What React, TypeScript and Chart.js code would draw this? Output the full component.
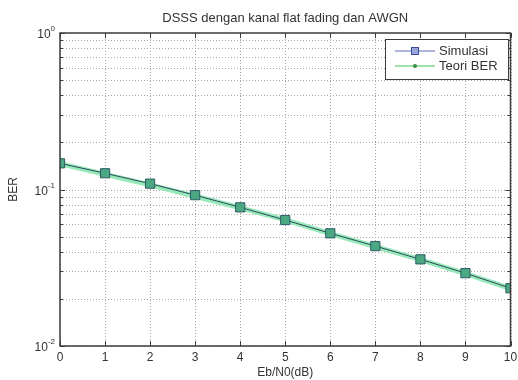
import React, { useEffect, useRef } from "react";
import { Chart, registerables } from "chart.js";

Chart.register(...registerables);

const ebN0 = [0, 1, 2, 3, 4, 5, 6, 7, 8, 9, 10];
const simBER = [0.147, 0.127, 0.109, 0.092, 0.0769, 0.0638, 0.0525, 0.0435, 0.0358, 0.0292, 0.0234];
const theoryBER = [0.146, 0.125, 0.107, 0.0905, 0.0765, 0.0640, 0.0522, 0.0432, 0.0356, 0.0290, 0.0233];
const xTickLabels = ["0", "1", "2", "3", "4", "5", "6", "7", "8", "9", "10"];
const yDecadeExponents = [0, -1, -2];
const titleText = "DSSS dengan kanal flat fading dan AWGN";
const xLabel = "Eb/N0(dB)";
const yLabel = "BER";
const legendLabels = ["Simulasi", "Teori BER"];

const FONT = '"Liberation Sans", Arial, sans-serif';
const TXT = "#333333";
const FRAME = "#3c3c3c";
const GRID = "#a8a8a8";

const matlabPlugin = {
  id: "matlabLook",
  beforeDraw(chart: any) {
    const { ctx, width, height } = chart;
    ctx.save();
    ctx.fillStyle = "#ffffff";
    ctx.fillRect(0, 0, width, height);
    ctx.restore();
  },
  beforeDatasetsDraw(chart: any) {
    const { ctx, chartArea: a, scales } = chart;
    const xs = scales.x, ys = scales.y;
    ctx.save();
    ctx.strokeStyle = GRID;
    ctx.lineWidth = 1;
    ctx.setLineDash([1, 2]);
    ebN0.forEach((v) => {
      const px = Math.round(xs.getPixelForValue(v)) + 0.5;
      ctx.beginPath();
      ctx.moveTo(px, a.top);
      ctx.lineTo(px, a.bottom);
      ctx.stroke();
    });
    for (let e = -2; e < 0; e++) {
      for (let m = 1; m <= 9; m++) {
        const py = Math.round(ys.getPixelForValue(m * Math.pow(10, e))) + 0.5;
        ctx.beginPath();
        ctx.moveTo(a.left, py);
        ctx.lineTo(a.right, py);
        ctx.stroke();
      }
    }
    ctx.restore();
  },
  afterDatasetsDraw(chart: any) {
    const { ctx, chartArea: a, scales } = chart;
    const xs = scales.x, ys = scales.y;
    ctx.save();
    // frame
    ctx.setLineDash([]);
    ctx.strokeStyle = FRAME;
    ctx.lineWidth = 1.5;
    ctx.strokeRect(a.left, a.top, a.right - a.left, a.bottom - a.top);
    // ticks
    ctx.lineWidth = 1;
    ebN0.forEach((v) => {
      const px = Math.round(xs.getPixelForValue(v)) + 0.5;
      ctx.beginPath();
      ctx.moveTo(px, a.bottom);
      ctx.lineTo(px, a.bottom - 5);
      ctx.moveTo(px, a.top);
      ctx.lineTo(px, a.top + 5);
      ctx.stroke();
    });
    for (let e = -2; e <= 0; e++) {
      for (let m = 1; m <= 9; m++) {
        if (e === 0 && m > 1) break;
        const py = Math.round(ys.getPixelForValue(m * Math.pow(10, e))) + 0.5;
        const len = m === 1 ? 5 : 3;
        ctx.beginPath();
        ctx.moveTo(a.left, py);
        ctx.lineTo(a.left + len, py);
        ctx.moveTo(a.right, py);
        ctx.lineTo(a.right - len, py);
        ctx.stroke();
      }
    }
    // x tick labels
    ctx.fillStyle = TXT;
    ctx.font = `12px ${FONT}`;
    ctx.textAlign = "center";
    ctx.textBaseline = "top";
    ebN0.forEach((v, i) => {
      ctx.fillText(xTickLabels[i], xs.getPixelForValue(v), a.bottom + 6);
    });
    // y tick labels
    yDecadeExponents.forEach((e) => {
      const py = ys.getPixelForValue(Math.pow(10, e));
      const sup = String(e);
      ctx.font = `8px ${FONT}`;
      const supW = ctx.measureText(sup).width;
      ctx.textAlign = "left";
      ctx.textBaseline = "alphabetic";
      const supX = a.left - 5 - supW;
      ctx.fillText(sup, supX, py - 2);
      ctx.font = `12px ${FONT}`;
      ctx.textAlign = "right";
      ctx.textBaseline = "middle";
      ctx.fillText("10", supX, py + 2);
    });
    // axis labels
    ctx.font = `12px ${FONT}`;
    ctx.textAlign = "center";
    ctx.textBaseline = "middle";
    ctx.fillText(xLabel, (a.left + a.right) / 2, a.bottom + 27);
    ctx.save();
    ctx.translate(14, (a.top + a.bottom) / 2);
    ctx.rotate(-Math.PI / 2);
    ctx.fillText(yLabel, 0, 0);
    ctx.restore();
    // title
    ctx.font = `13px ${FONT}`;
    ctx.fillText(titleText, (a.left + a.right) / 2, 18);
    // legend
    const lx = 385, ly = 39, lw = 123, lh = 40;
    ctx.fillStyle = "#ffffff";
    ctx.fillRect(lx, ly, lw, lh);
    ctx.strokeStyle = FRAME;
    ctx.lineWidth = 1;
    ctx.strokeRect(lx + 0.5, ly + 0.5, lw, lh);
    const rows = [ly + 12, ly + 27];
    // Simulasi sample
    ctx.strokeStyle = "#5a6ab8";
    ctx.lineWidth = 1;
    ctx.beginPath();
    ctx.moveTo(lx + 10, rows[0]);
    ctx.lineTo(lx + 50, rows[0]);
    ctx.stroke();
    ctx.fillStyle = "#9aa4d8";
    ctx.fillRect(lx + 26, rows[0] - 4, 8, 8);
    ctx.strokeStyle = "#3a4aa0";
    ctx.strokeRect(lx + 26.5, rows[0] - 3.5, 7, 7);
    // Teori sample
    ctx.strokeStyle = "#7ed88a";
    ctx.lineWidth = 1.5;
    ctx.beginPath();
    ctx.moveTo(lx + 10, rows[1]);
    ctx.lineTo(lx + 50, rows[1]);
    ctx.stroke();
    ctx.fillStyle = "#3a8a4a";
    ctx.beginPath();
    ctx.arc(lx + 30, rows[1], 2, 0, Math.PI * 2);
    ctx.fill();
    ctx.fillStyle = TXT;
    ctx.font = `13px ${FONT}`;
    ctx.textAlign = "left";
    ctx.textBaseline = "middle";
    ctx.fillText(legendLabels[0], lx + 54, rows[0]);
    ctx.fillText(legendLabels[1], lx + 54, rows[1]);
    ctx.restore();
  },
};

export default function App() {
  const ref = useRef<HTMLCanvasElement>(null);
  useEffect(() => {
    if (!ref.current) return;
    const chart = new Chart(ref.current, {
      type: "line",
      data: {
        datasets: [
          {
            label: legendLabels[0],
            data: ebN0.map((x, i) => ({ x, y: simBER[i] })),
            borderColor: "#2e4660",
            borderWidth: 1,
            pointStyle: "rect",
            pointRadius: 6.5,
            pointBackgroundColor: "#4aa882",
            pointBorderColor: "#2f5a66",
            pointBorderWidth: 1,
            order: 1,
          },
          {
            label: legendLabels[1],
            data: ebN0.map((x, i) => ({ x, y: theoryBER[i] })),
            borderColor: "#96eab8",
            borderWidth: 5,
            pointRadius: 0,
            order: 2,
          },
        ],
      },
      options: {
        animation: false,
        responsive: true,
        maintainAspectRatio: false,
        layout: { padding: { left: 60, top: 33, right: 7, bottom: 34 } },
        plugins: { legend: { display: false }, title: { display: false }, tooltip: { enabled: false } },
        scales: {
          x: {
            type: "linear",
            min: 0,
            max: 10,
            grid: { display: false, drawTicks: false },
            border: { display: false },
            ticks: { display: false },
          },
          y: {
            type: "logarithmic",
            min: 0.01,
            max: 1,
            grid: { display: false, drawTicks: false },
            border: { display: false },
            ticks: { display: false },
          },
        },
      },
      plugins: [matlabPlugin],
    });
    return () => chart.destroy();
  }, []);
  return (
    <div style={{ position: "fixed", left: 0, top: 0, width: 518, height: 380 }}>
      <canvas ref={ref} />
    </div>
  );
}
